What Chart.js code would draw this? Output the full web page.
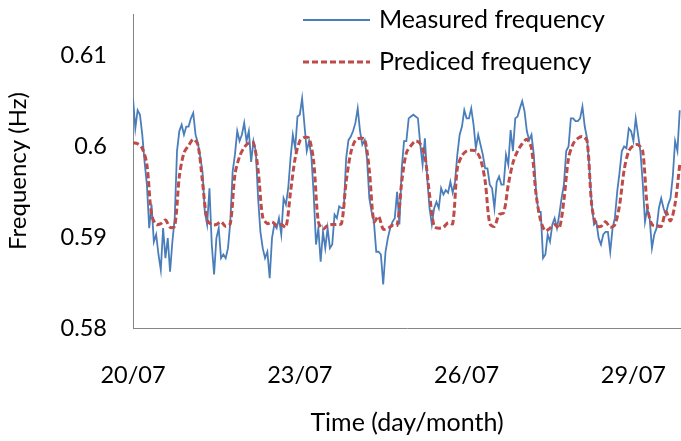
<!DOCTYPE html>
<html>
<head>
<meta charset="utf-8">
<script src="https://cdn.jsdelivr.net/npm/chart.js@4"></script>
<style>
  html, body { margin: 0; padding: 0; background: #fff; }
  #wrap { width: 681px; height: 441px; }
</style>
</head>
<body>
<div id="wrap"><canvas id="freqChart" width="681" height="441"></canvas></div>
<script>
// ── measured vs predicted frequency, 20/07 - 29/07 ──────────────────────────

// measured frequency, one value per hour starting 20/07 00:00
const measured = [
  0.6053,0.6020,0.6040,0.6035,0.6013,0.5983,0.5958,0.5910,0.5936,0.5895,
  0.5903,0.5881,0.5864,0.5910,0.5877,0.5899,0.5862,0.5895,0.5921,0.5995,
  0.6017,0.6024,0.6013,0.6022,0.6022,0.6031,0.6037,0.6013,0.6004,0.5989,
  0.5972,0.5928,0.5914,0.5954,0.5892,0.5859,0.5899,0.5910,0.5877,0.5881,
  0.5877,0.5888,0.5917,0.5972,0.5991,0.6017,0.6006,0.6013,0.6026,0.6006,
  0.6017,0.5983,0.6006,0.5995,0.5943,0.5906,0.5888,0.5877,0.5884,0.5855,
  0.5899,0.5914,0.5910,0.5921,0.5903,0.5943,0.5936,0.5954,0.5987,0.6013,
  0.5998,0.6033,0.6035,0.6053,0.6024,0.5995,0.6006,0.5989,0.5947,0.5892,
  0.5910,0.5873,0.5906,0.5888,0.5910,0.5888,0.5892,0.5925,0.5921,0.5934,
  0.5932,0.5932,0.5987,0.6007,0.6011,0.6017,0.6026,0.6042,0.6017,0.6002,
  0.6007,0.5987,0.5943,0.5928,0.5917,0.5884,0.5884,0.5881,0.5848,0.5884,
  0.5899,0.5910,0.5917,0.5921,0.5950,0.5914,0.5976,0.6006,0.6006,0.6031,
  0.6033,0.6035,0.6033,0.6031,0.6002,0.5980,0.6009,0.5965,0.5932,0.5914,
  0.5932,0.5939,0.5932,0.5954,0.5947,0.5952,0.5949,0.5961,0.5949,0.5961,
  0.5991,0.6013,0.6022,0.6040,0.6031,0.6031,0.6042,0.6024,0.5998,0.6013,
  0.6002,0.5991,0.5976,0.5976,0.5958,0.5954,0.5932,0.5961,0.5967,
  0.5958,0.5958,0.5991,0.5980,0.6018,0.5995,0.6031,0.6033,0.6042,0.6050,
  0.6039,0.6017,0.6007,0.6013,0.5991,0.5950,0.5928,0.5928,0.5877,0.5881,
  0.5903,0.5895,0.5914,0.5921,0.5910,0.5925,0.5943,0.5958,0.5995,0.6000,
  0.6031,0.6031,0.6028,0.6028,0.6031,0.6044,0.6022,0.6009,0.5976,0.5936,
  0.5914,0.5917,0.5899,0.5892,0.5903,0.5906,0.5906,0.5884,0.5910,0.5921,
  0.5950,0.5971,0.5995,0.6000,0.5998,0.6020,0.6017,0.6006,0.6031,0.6013,
  0.5995,0.5961,0.5917,0.5932,0.5921,0.5888,0.5903,0.5910,0.5932,0.5943,
  0.5932,0.5925,0.5936,0.5943,0.5967,0.6006,0.5995,0.6040
];

// predicted frequency, one value every 2 hours
const predicted = [
  0.6004,0.6003,0.5998,0.5980,0.5925,0.5914,0.5915,0.5919,0.5911,0.5912,
  0.5967,0.5993,0.6001,0.6008,0.6002,0.5961,0.5919,0.5914,0.5914,0.5917,
  0.5912,0.5915,0.5969,0.5989,0.5999,0.6004,0.6004,0.5974,0.5922,0.5915,
  0.5917,0.5913,0.5914,0.5911,0.5950,0.5987,0.6006,0.6010,0.6009,0.5983,
  0.5917,0.5909,0.5913,0.5914,0.5914,0.5915,0.5961,0.5993,0.6007,0.6009,
  0.6008,0.5974,0.5917,0.5923,0.5909,0.5910,0.5913,0.5913,0.5961,0.5993,
  0.6001,0.6006,0.6003,0.5989,0.5947,0.5912,0.5910,0.5911,0.5916,0.5915,
  0.5976,0.5990,0.5995,0.5996,0.5995,0.5986,0.5962,0.5915,0.5912,0.5925,
  0.5927,0.5958,0.5982,0.5995,0.6003,0.6008,0.5998,0.5947,0.5918,0.5907,
  0.5910,0.5914,0.5910,0.5941,0.5987,0.6003,0.6009,0.6011,0.6006,0.5936,
  0.5913,0.5912,0.5917,0.5911,0.5914,0.5935,0.5974,0.5995,0.6001,0.6002,
  0.5995,0.5934,0.5914,0.5913,0.5912,0.5928,0.5918,0.5937,0.5980
];

const measuredStep = 1;   // hours
const predictedStep = 2;  // hours

const dayTicks = [0, 3, 6, 9];
const dayLabels = ['20/07', '23/07', '26/07', '29/07'];
const freqTicks = [0.58, 0.59, 0.6, 0.61];

const FONT = 'Lato';
const BLUE = '#4A7EBB';
const RED = '#BE4B48';

const toPoints = (arr, step) => arr.map((v, i) => ({ x: i * step / 24, y: v }));

// legend drawn over the plot, like the original
const overlayLegend = {
    id: 'overlayLegend',
    afterDraw(chart) {
        const ctx = chart.ctx;
        const rows = [
            { y: 20, color: BLUE, width: 2, dash: [], text: 'Measured frequency' },
            { y: 62, color: RED, width: 3, dash: [6, 3], text: 'Prediced frequency' }
        ];
        ctx.save();
        ctx.font = `25px ${FONT}`;
        ctx.textBaseline = 'middle';
        ctx.fillStyle = '#000';
        rows.forEach(r => {
            ctx.beginPath();
            ctx.setLineDash(r.dash);
            ctx.lineWidth = r.width;
            ctx.strokeStyle = r.color;
            ctx.moveTo(303, r.y);
            ctx.lineTo(370, r.y);
            ctx.stroke();
            ctx.setLineDash([]);
            ctx.fillText(r.text, 379, r.y);
        });
        ctx.restore();
    }
};

new Chart(document.getElementById('freqChart').getContext('2d'), {
    type: 'line',
    data: {
        datasets: [
            {
                label: 'Prediced frequency',
                data: toPoints(predicted, predictedStep),
                borderColor: RED,
                borderWidth: 3,
                borderDash: [6, 3],
                pointRadius: 0,
                tension: 0.3,
                order: 0
            },
            {
                label: 'Measured frequency',
                data: toPoints(measured, measuredStep),
                borderColor: BLUE,
                borderWidth: 1.8,
                pointRadius: 0,
                tension: 0,
                order: 1
            }
        ]
    },
    options: {
        responsive: false,
        animation: false,
        devicePixelRatio: 1,
        layout: { padding: { top: 14, right: 0, left: 0, bottom: 0 } },
        plugins: { legend: { display: false }, tooltip: { enabled: false } },
        scales: {
            x: {
                type: 'linear',
                min: 0,
                max: 9.856,
                afterBuildTicks: s => { s.ticks = dayTicks.map(v => ({ value: v })); },
                afterFit: s => { s.height = 113; s.paddingLeft = 0; s.paddingRight = 0; },
                grid: { display: false, drawTicks: false },
                border: { display: true, color: '#868686', width: 1 },
                ticks: {
                    color: '#000',
                    padding: 33,
                    maxRotation: 0,
                    autoSkip: false,
                    font: { family: FONT, size: 23.5 },
                    callback: v => dayLabels[dayTicks.indexOf(v)]
                },
                title: {
                    display: true,
                    text: 'Time (day/month)',
                    color: '#000',
                    font: { family: FONT, size: 25 },
                    padding: { top: 10, bottom: 3 }
                }
            },
            y: {
                min: 0.58,
                max: 0.6146,
                afterBuildTicks: s => { s.ticks = freqTicks.map(v => ({ value: v })); },
                afterFit: s => { s.width = 133; s.paddingTop = 0; s.paddingBottom = 0; },
                grid: { display: false, drawTicks: false },
                border: { display: true, color: '#868686', width: 1 },
                ticks: {
                    color: '#000',
                    padding: 26,
                    font: { family: FONT, size: 23.5 },
                    callback: v => String(+v.toFixed(2))
                },
                title: {
                    display: true,
                    text: 'Frequency (Hz)',
                    color: '#000',
                    font: { family: FONT, size: 24 },
                    padding: { bottom: 0 }
                }
            }
        }
    },
    plugins: [overlayLegend]
});
</script>
</body>
</html>
